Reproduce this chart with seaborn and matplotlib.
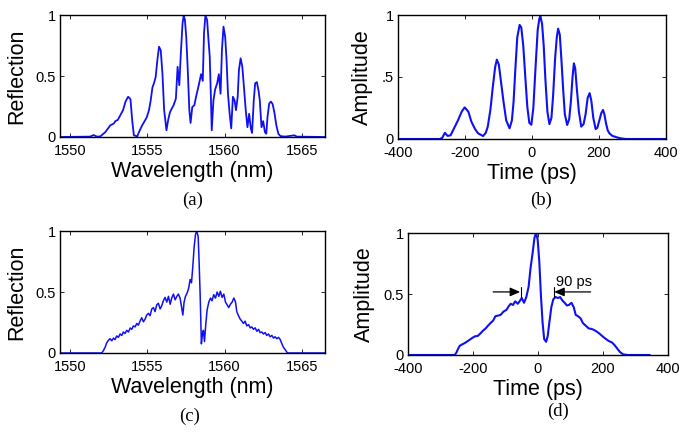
import numpy as np
import pandas as pd
import matplotlib
matplotlib.use("Agg")
import matplotlib.pyplot as plt
import seaborn as sns

# ---------------- data ----------------
wl_a = [1549.35, 1551.30, 1551.52, 1551.74, 1551.96, 1552.28, 1552.61, 1552.83, 1552.93, 1553.09,
        1553.26, 1553.43, 1553.59, 1553.76, 1553.91, 1554.02, 1554.13, 1554.35, 1554.46, 1554.57,
        1554.67, 1554.78, 1554.96, 1555.11, 1555.22, 1555.33, 1555.43, 1555.54, 1555.65, 1555.76,
        1555.87, 1555.98, 1556.09, 1556.24, 1556.35, 1556.46, 1556.57, 1556.70, 1556.85, 1556.96,
        1557.07, 1557.17, 1557.28, 1557.35, 1557.43, 1557.52, 1557.61, 1557.72, 1557.80, 1557.91,
        1558.04, 1558.20, 1558.33, 1558.48, 1558.59, 1558.67, 1558.76, 1558.87, 1558.96, 1559.04,
        1559.11, 1559.17, 1559.28, 1559.39, 1559.52, 1559.63, 1559.74, 1559.83, 1559.93, 1560.04,
        1560.13, 1560.22, 1560.33, 1560.43, 1560.54, 1560.65, 1560.74, 1560.85, 1560.93, 1561.04,
        1561.15, 1561.26, 1561.37, 1561.48, 1561.59, 1561.70, 1561.78, 1561.89, 1561.98, 1562.09,
        1562.20, 1562.28, 1562.39, 1562.50, 1562.61, 1562.70, 1562.78, 1562.89, 1563.00, 1563.11,
        1563.22, 1563.35, 1563.48, 1563.61, 1563.91, 1564.52, 1564.67, 1566.50]
refl_a = [0.0, 0.003, 0.016, 0.003, 0.005, 0.04, 0.096, 0.11, 0.13, 0.14,
          0.18, 0.22, 0.29, 0.33, 0.31, 0.14, 0.014, 0.005, 0.04, 0.07,
          0.096, 0.12, 0.16, 0.22, 0.30, 0.405, 0.44, 0.49, 0.63, 0.74,
          0.71, 0.52, 0.22, 0.055, 0.14, 0.20, 0.23, 0.26, 0.315, 0.575,
          0.425, 0.685, 0.93, 0.99, 0.965, 0.82, 0.575, 0.22, 0.115, 0.245,
          0.26, 0.355, 0.425, 0.515, 0.46, 0.85, 0.997, 0.96, 0.795, 0.66,
          0.355, 0.055, 0.30, 0.39, 0.44, 0.515, 0.355, 0.71, 0.905, 0.82,
          0.63, 0.355, 0.19, 0.07, 0.33, 0.30, 0.22, 0.33, 0.55, 0.645,
          0.575, 0.40, 0.22, 0.08, 0.19, 0.07, 0.033, 0.30, 0.44, 0.45,
          0.38, 0.30, 0.08, 0.13, 0.04, 0.027, 0.165, 0.275, 0.29, 0.27,
          0.205, 0.096, 0.027, 0.008, 0.003, 0.014, 0.003, 0.0]

t_b = [-400, -275, -268, -260, -252, -243, -232, -221, -210, -201, -190, -181, -170, -161, -146,
       -138, -132, -124, -117, -110, -105, -99, -92, -85, -77, -67, -60, -55, -50, -44, -37, -32,
       -26, -20, -14, -8, -2, 4, 10, 17, 22, 25, 30, 35, 40, 46, 52, 58, 63, 69, 74, 78, 83, 88,
       93, 98, 105, 111, 116, 121, 125, 129, 134, 140, 147, 154, 160, 166, 172, 177, 183, 190,
       195, 201, 207, 212, 216, 221, 226, 231, 240, 255, 266, 280, 400]
amp_b = [0, 0, 0.01, 0.05, 0.025, 0.03, 0.09, 0.15, 0.22, 0.255, 0.22, 0.14, 0.08, 0.046, 0.024,
         0.05, 0.1, 0.24, 0.42, 0.58, 0.64, 0.6, 0.45, 0.3, 0.15, 0.086, 0.15, 0.3, 0.55, 0.82,
         0.92, 0.9, 0.75, 0.5, 0.26, 0.13, 0.115, 0.25, 0.55, 0.88, 0.97, 0.99, 0.93, 0.75, 0.48,
         0.22, 0.12, 0.17, 0.35, 0.65, 0.82, 0.89, 0.84, 0.63, 0.4, 0.2, 0.113, 0.16, 0.3, 0.5,
         0.61, 0.57, 0.4, 0.22, 0.1, 0.12, 0.2, 0.33, 0.37, 0.31, 0.17, 0.08, 0.09, 0.15, 0.21,
         0.234, 0.2, 0.126, 0.07, 0.046, 0.025, 0.012, 0.005, 0, 0]

wl_c = [1549.35, 1552.05, 1552.16, 1552.27, 1552.37, 1552.48, 1552.59, 1552.70, 1552.81, 1552.91,
        1553.02, 1553.13, 1553.24, 1553.35, 1553.45, 1553.56, 1553.67, 1553.78, 1553.89, 1553.99,
        1554.10, 1554.21, 1554.32, 1554.42, 1554.53, 1554.64, 1554.75, 1554.86, 1554.96, 1555.07,
        1555.18, 1555.29, 1555.40, 1555.50, 1555.61, 1555.72, 1555.83, 1555.94, 1556.04, 1556.15,
        1556.26, 1556.37, 1556.48, 1556.58, 1556.69, 1556.80, 1556.91, 1557.01, 1557.12, 1557.23,
        1557.30, 1557.38, 1557.47, 1557.58, 1557.68, 1557.77, 1557.86, 1557.94, 1558.03, 1558.12,
        1558.20, 1558.29, 1558.35, 1558.42, 1558.47, 1558.50, 1558.57, 1558.63, 1558.70, 1558.78,
        1558.87, 1558.98, 1559.09, 1559.19, 1559.30, 1559.41, 1559.52, 1559.63, 1559.73, 1559.84,
        1559.95, 1560.06, 1560.17, 1560.27, 1560.38, 1560.49, 1560.60, 1560.71, 1560.79, 1560.90,
        1561.01, 1561.12, 1561.22, 1561.33, 1561.44, 1561.55, 1561.66, 1561.76, 1561.87, 1561.98,
        1562.09, 1562.20, 1562.30, 1562.41, 1562.52, 1562.63, 1562.73, 1562.84, 1562.95, 1563.06,
        1563.17, 1563.27, 1563.38, 1563.49, 1563.60, 1563.71, 1563.81, 1563.92, 1564.07, 1566.50]
refl_c = [0.0, 0.0, 0.02, 0.047, 0.083, 0.103, 0.117, 0.10, 0.122, 0.11,
          0.14, 0.128, 0.156, 0.144, 0.172, 0.16, 0.186, 0.172, 0.205, 0.194,
          0.222, 0.214, 0.242, 0.228, 0.261, 0.289, 0.256, 0.278, 0.311, 0.325,
          0.306, 0.361, 0.372, 0.339, 0.394, 0.408, 0.361, 0.389, 0.428, 0.456,
          0.417, 0.464, 0.40, 0.45, 0.483, 0.436, 0.464, 0.483, 0.45, 0.367,
          0.311, 0.417, 0.464, 0.492, 0.533, 0.603, 0.575, 0.70, 0.867, 0.972,
          1.0, 0.956, 0.756, 0.478, 0.228, 0.075, 0.158, 0.186, 0.094, 0.228,
          0.353, 0.417, 0.45, 0.428, 0.478, 0.45, 0.50, 0.464, 0.506, 0.456,
          0.483, 0.417, 0.394, 0.372, 0.40, 0.417, 0.45, 0.417, 0.339, 0.306,
          0.278, 0.261, 0.242, 0.261, 0.222, 0.233, 0.206, 0.214, 0.194, 0.206,
          0.178, 0.194, 0.167, 0.172, 0.156, 0.167, 0.144, 0.156, 0.133, 0.144,
          0.122, 0.133, 0.117, 0.128, 0.111, 0.075, 0.047, 0.028, 0.0, 0.0]

t_d = [-400, -256, -251, -246, -241, -234, -226, -215, -205, -195, -185, -176, -169, -161, -154,
       -146, -138, -131, -123, -115, -106, -97, -90, -84, -77, -70, -62, -55, -50, -43, -36, -29,
       -23, -16, -11, -6, -1, 4, 9, 14, 19, 25, 30, 35, 41, 47, 54, 62, 68, 75, 82, 89, 95, 103,
       110, 116, 123, 131, 138, 147, 156, 166, 176, 187, 197, 207, 217, 228, 236, 244, 252, 262,
       277, 344]
amp_d = [0, 0, 0.02, 0.05, 0.075, 0.086, 0.097, 0.116, 0.135, 0.152, 0.157, 0.18, 0.2, 0.218,
         0.24, 0.262, 0.282, 0.318, 0.323, 0.329, 0.356, 0.37, 0.40, 0.42, 0.41, 0.44, 0.42, 0.447,
         0.467, 0.428, 0.475, 0.558, 0.71, 0.848, 0.959, 1.0, 0.945, 0.765, 0.489, 0.268, 0.13,
         0.108, 0.157, 0.268, 0.392, 0.456, 0.475, 0.467, 0.475, 0.447, 0.428, 0.406, 0.41, 0.428,
         0.392, 0.329, 0.318, 0.301, 0.262, 0.24, 0.218, 0.213, 0.2, 0.18, 0.157, 0.135, 0.116,
         0.102, 0.08, 0.052, 0.025, 0.005, 0, 0]

xticks_wl = [1550, 1555, 1560, 1565]
xticks_t = [-400, -200, 0, 200, 400]
yticks = [0, 0.5, 1]
ylabels_std = ["0", "0.5", "1"]
ylabels_b = ["0", ".5", "1"]
captions = ["(a)", "(b)", "(c)", "(d)"]

# ---------------- styling ----------------
sns.set_theme(style="ticks")
plt.rcParams["font.family"] = ["Liberation Sans", "DejaVu Sans"]
plt.rcParams["text.color"] = "black"
plt.rcParams["axes.labelcolor"] = "black"
plt.rcParams["xtick.color"] = "black"
plt.rcParams["ytick.color"] = "black"
plt.rcParams["xtick.direction"] = "in"
plt.rcParams["ytick.direction"] = "in"

BLUE = "#1010f5"
fig = plt.figure(figsize=(6.82, 4.32), dpi=100)

W, H = 682.0, 432.0
def box(l, t, r, b):
    return [l / W, 1 - b / H, (r - l) / W, (b - t) / H]

ax_a = fig.add_axes(box(60, 15, 325, 137))
ax_b = fig.add_axes(box(398, 15, 666, 139))
ax_c = fig.add_axes(box(60, 231, 325, 353))
ax_d = fig.add_axes(box(408, 233, 668, 355))

def style(ax, xt, xlim, ylab_txt, xlab_txt, ylabs):
    ax.set_xlim(*xlim)
    ax.set_ylim(0, 1)
    ax.set_xticks(xt)
    ax.set_xticklabels([str(v) for v in xt])
    ax.set_yticks(yticks)
    ax.set_yticklabels(ylabs)
    ax.tick_params(axis="both", which="both", direction="in", length=3, width=0.6,
                   top=True, right=True, labelsize=10.5, pad=3, colors="black",
                   labelcolor="black")
    ax.tick_params(axis="x", pad=5)
    for s in ax.spines.values():
        s.set_visible(True)
        s.set_color("black")
        s.set_linewidth(1.0)
    ax.set_xlabel(xlab_txt, fontsize=15.5, labelpad=2, color="black")
    ax.set_ylabel(ylab_txt, fontsize=15.5, labelpad=6, color="black")
    ax.set_facecolor("white")

sns.lineplot(x=np.array(wl_a), y=np.array(refl_a), ax=ax_a, color=BLUE, lw=1.3,
             sort=False, estimator=None)
style(ax_a, xticks_wl, (1549.35, 1566.5), "Reflection", "Wavelength (nm)", ylabels_std)

sns.lineplot(x=np.array(t_b), y=np.array(amp_b), ax=ax_b, color=BLUE, lw=1.5,
             sort=False, estimator=None)
style(ax_b, xticks_t, (-400, 400), "Amplitude", "Time (ps)", ylabels_b)

sns.lineplot(x=np.array(wl_c), y=np.array(refl_c), ax=ax_c, color=BLUE, lw=1.1,
             sort=False, estimator=None)
style(ax_c, xticks_wl, (1549.35, 1566.5), "Reflection", "Wavelength (nm)", ylabels_std)

sns.lineplot(x=np.array(t_d), y=np.array(amp_d), ax=ax_d, color=BLUE, lw=1.5,
             sort=False, estimator=None)
style(ax_d, xticks_t, (-400, 400), "Amplitude", "Time (ps)", ylabels_std)

# annotation in (d)
arrow_kw = dict(arrowstyle="-|>,head_length=0.5,head_width=0.22", color="black", lw=0.9,
                shrinkA=0, shrinkB=0)
ax_d.annotate("", xy=(-55, 0.517), xytext=(-138, 0.517), arrowprops=arrow_kw)
ax_d.annotate("", xy=(50, 0.517), xytext=(162, 0.517), arrowprops=arrow_kw)
ax_d.plot([-51, -51], [0.475, 0.558], color="black", lw=0.8)
ax_d.plot([49, 49], [0.475, 0.558], color="black", lw=0.8)
ax_d.text(110, 0.545, "90 ps", fontsize=10.5, ha="center", va="bottom", color="black")

# captions
cap_pos = [(193, 200), (541, 200), (190, 416), (558, 411)]
for txt, (cx, cy) in zip(captions, cap_pos):
    fig.text(cx / W, 1 - cy / H, txt, ha="center", va="center", fontsize=13.5,
             color="black", family=["Liberation Serif", "DejaVu Serif"])

fig.savefig("out.png", dpi=100, facecolor="white")
